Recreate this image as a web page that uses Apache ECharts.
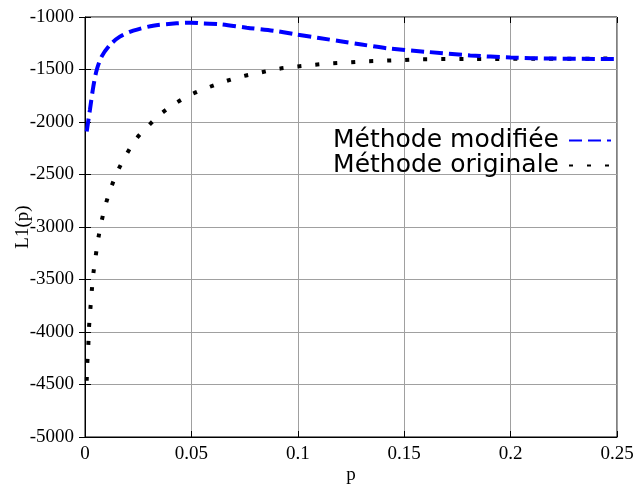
<!DOCTYPE html>
<html>
<head>
<meta charset="utf-8">
<script src="https://cdn.jsdelivr.net/npm/echarts@6/dist/echarts.min.js"></script>
<style>
  html, body { margin: 0; padding: 0; background: #fff; }
  #chart { width: 636px; height: 486px; }
</style>
</head>
<body>
<div id="chart"></div>
<script>
// valeurs
const pModifiee = [0.0008, 0.0023, 0.0039, 0.0055, 0.0078, 0.0117, 0.0164, 0.0227, 0.032, 0.043, 0.05,
  0.0556, 0.063, 0.076, 0.0885, 0.098, 0.11, 0.12, 0.13, 0.142, 0.1606, 0.181, 0.2, 0.22, 0.25]
const l1Modifiee = [-2090, -1886, -1664, -1505, -1378, -1267, -1187, -1130, -1083, -1060, -1054,
  -1062, -1067, -1102, -1130, -1162, -1200, -1231, -1262, -1298, -1332, -1366, -1386, -1396, -1400]

const pOriginale = [0.0008, 0.00108, 0.00155, 0.00188, 0.00249, 0.00315, 0.0039, 0.00503, 0.00625, 0.00785,
  0.00987, 0.0125, 0.0156, 0.0196, 0.024, 0.0298, 0.036, 0.0428, 0.0501, 0.058, 0.0658, 0.0739,
  0.0822, 0.0905, 0.099, 0.107, 0.1156, 0.124, 0.132, 0.141, 0.149, 0.157, 0.18, 0.21, 0.25]
const l1Originale = [-4464, -4298, -4130, -3959, -3790, -3616, -3448, -3276, -3108, -2940,
  -2774, -2610, -2457, -2305, -2162, -2035, -1917, -1819, -1736, -1670, -1613, -1565,
  -1530, -1495, -1473, -1457, -1441, -1432, -1422, -1416, -1410, -1403, -1400, -1398, -1396]

const nomsSeries = ['Méthode modifiée', 'Méthode originale']

const zip = (xs, ys) => xs.map((x, i) => [x, ys[i]])

const serif = 'Liberation Serif'
const tickStyle = { show: true, inside: true, length: 6, lineStyle: { color: '#000' } }

let myChart = echarts.init(document.getElementById('chart'))
let option = {
  animation: false,
  grid: {
    left: 85,
    right: 19,
    top: 17,
    bottom: 49,
    outerBoundsMode: 'none',
    containLabel: false,
    show: true,
    borderColor: '#000',
    borderWidth: 1
  },
  legend: {
    right: 24,
    top: 128,
    orient: 'vertical',
    align: 'right',
    padding: 0,
    itemGap: 0,
    itemWidth: 42,
    itemHeight: 14,
    itemStyle: { opacity: 0 }, // pas de symbole dans la légende
    textStyle: {
      fontFamily: 'DejaVu Sans',
      fontSize: 25,
      lineHeight: 22,
      color: '#000',
      padding: [0, 5, 0, 0]
    },
    data: nomsSeries
  },
  xAxis: [
    {
      type: 'value',
      min: 0,
      max: 0.25,
      interval: 0.05,
      name: 'p',
      nameLocation: 'middle',
      nameGap: 29,
      nameMoveOverlap: false,
      nameTextStyle: { fontFamily: serif, fontSize: 19, color: '#000' },
      axisLine: { lineStyle: { color: '#000' } },
      axisTick: tickStyle,
      axisLabel: { fontFamily: serif, fontSize: 19, color: '#000', margin: 8 },
      splitLine: { lineStyle: { color: '#a0a0a0' } }
    },
    {
      type: 'value',
      position: 'top',
      min: 0,
      max: 0.25,
      interval: 0.05,
      axisLine: { show: false },
      axisTick: tickStyle,
      axisLabel: { show: false },
      splitLine: { show: false }
    }
  ],
  yAxis: [
    {
      type: 'value',
      min: -5000,
      max: -1000,
      interval: 500,
      name: 'L1(p)',
      nameLocation: 'middle',
      nameGap: 52,
      nameMoveOverlap: false,
      nameTextStyle: { fontFamily: serif, fontSize: 19, color: '#000' },
      axisLine: { show: true, lineStyle: { color: '#000' } },
      axisTick: tickStyle,
      axisLabel: {
        fontFamily: serif,
        fontSize: 19,
        color: '#000',
        margin: 11,
        formatter: (v) => String(v)
      },
      splitLine: { lineStyle: { color: '#a0a0a0' } }
    },
    {
      type: 'value',
      position: 'right',
      min: -5000,
      max: -1000,
      interval: 500,
      axisLine: { show: false },
      axisTick: tickStyle,
      axisLabel: { show: false },
      splitLine: { show: false }
    }
  ],
  series: [
    {
      name: nomsSeries[0],
      type: 'line',
      showSymbol: false,
      symbol: 'none',
      smooth: 0.3,
      data: zip(pModifiee, l1Modifiee),
      lineStyle: { color: '#0000ff', width: 4, type: [13, 6], cap: 'butt' },
      itemStyle: { color: '#0000ff' },
      z: 3
    },
    {
      name: nomsSeries[1],
      type: 'line',
      showSymbol: false,
      symbol: 'none',
      smooth: 0.3,
      data: zip(pOriginale, l1Originale),
      lineStyle: { color: '#000', width: 4, type: [4, 14], cap: 'butt' },
      itemStyle: { color: '#000' },
      z: 2
    }
  ]
}
myChart.setOption(option)
</script>
</body>
</html>
